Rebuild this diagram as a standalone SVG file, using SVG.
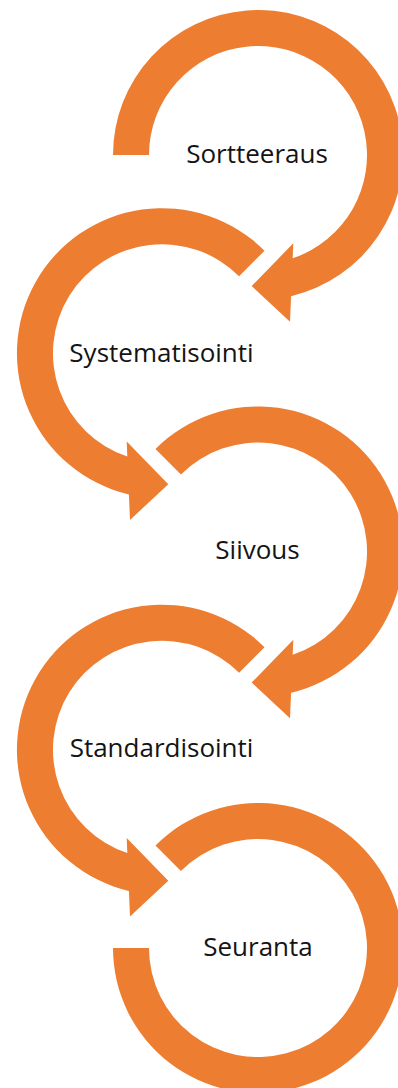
<svg xmlns="http://www.w3.org/2000/svg" width="398" height="1088" viewBox="0 0 398 1088">
  <style>
    .ring { fill: #ED7D31; stroke: none; }
    .label { font-family: "Open Sans", "Noto Sans", sans-serif; font-size: 26px; fill: #141414; text-anchor: middle; }
  </style>
  <defs>
    <!-- circular arrow, tail cut horizontally on the left (180deg) -->
    <path id="arrowFromLeft" class="ring"
      d="M -145 0 A 145 145 0 1 1 33.08 141.13 L 32 166.7 L -6.3 131 L 35.3 88.3 L 34.67 103.33 A 109 109 0 1 0 -109 0 Z"/>
    <!-- circular arrow, tail cut on the upper-left diagonal (225deg) -->
    <path id="arrowFromDiag" class="ring"
      d="M -102.53 -102.53 A 145 145 0 1 1 33.08 141.13 L 32 166.7 L -6.3 131 L 35.3 88.3 L 34.67 103.33 A 109 109 0 1 0 -77.07 -77.07 Z"/>
    <!-- open ring without arrowhead, 225deg round to 180deg -->
    <path id="ringOpen" class="ring"
      d="M -102.53 -102.53 A 145 145 0 1 1 -145 0 L -109 0 A 109 109 0 1 0 -77.07 -77.07 Z"/>
  </defs>

  <g id="step-sortteeraus">
    <use href="#arrowFromLeft" transform="translate(258 155)"/>
    <text class="label" x="257" y="163">Sortteeraus</text>
  </g>

  <g id="step-systematisointi">
    <use href="#arrowFromDiag" transform="translate(162 353.25) scale(-1 1)"/>
    <text class="label" x="161.5" y="362">Systematisointi</text>
  </g>

  <g id="step-siivous">
    <use href="#arrowFromDiag" transform="translate(258 551.5)"/>
    <text class="label" x="257.5" y="559">Siivous</text>
  </g>

  <g id="step-standardisointi">
    <use href="#arrowFromDiag" transform="translate(162 749.75) scale(-1 1)"/>
    <text class="label" x="161.5" y="757">Standardisointi</text>
  </g>

  <g id="step-seuranta">
    <use href="#ringOpen" transform="translate(258 948)"/>
    <text class="label" x="258" y="956">Seuranta</text>
  </g>
</svg>
